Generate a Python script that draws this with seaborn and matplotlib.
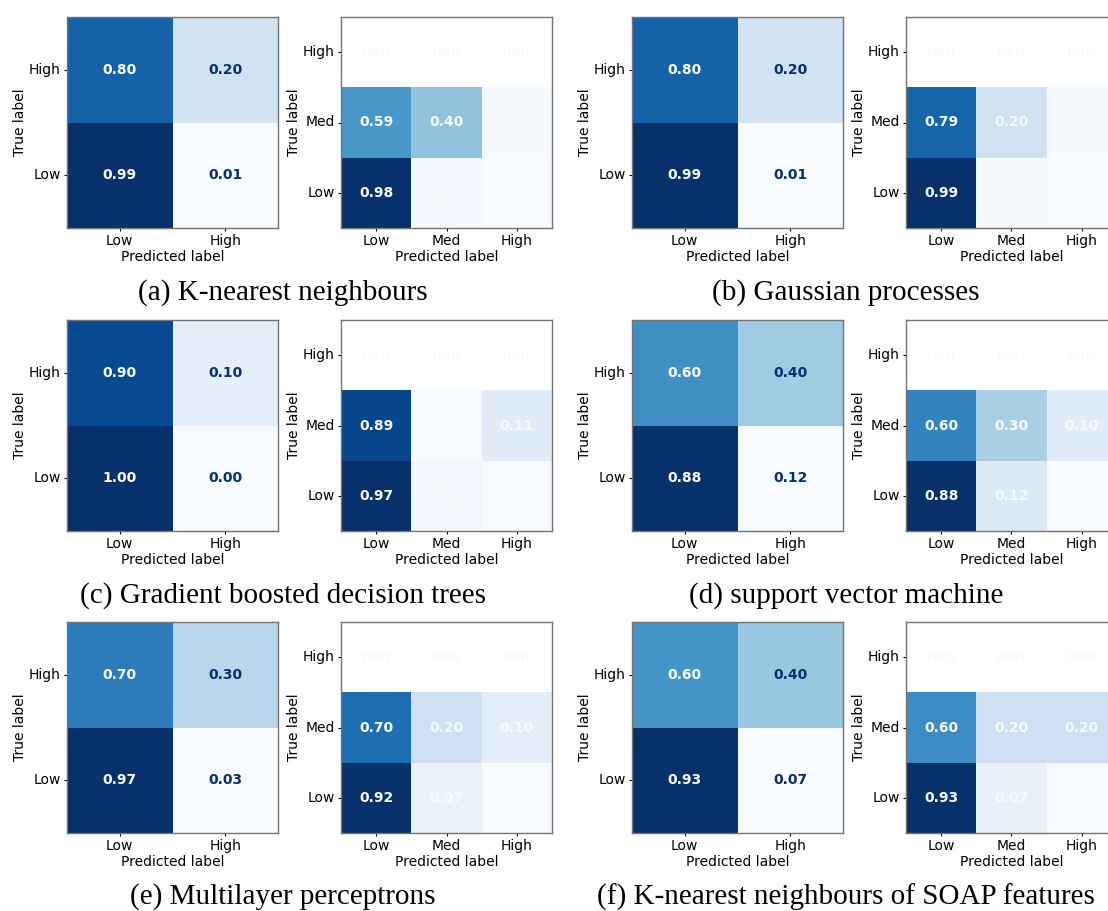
import numpy as np
import pandas as pd
import matplotlib
matplotlib.use("Agg")
import matplotlib.pyplot as plt
import seaborn as sns

nan = np.nan

labels2 = ["Low", "High"]
labels3 = ["Low", "Med", "High"]

captions = [
    "(a) K-nearest neighbours",
    "(b) Gaussian processes",
    "(c) Gradient boosted decision trees",
    "(d) support vector machine",
    "(e) Multilayer perceptrons",
    "(f) K-nearest neighbours of SOAP features",
]

# rows = true label (Low, High), cols = predicted label (Low, High)
knn_2 = [[0.99, 0.01], [0.80, 0.20]]
gp_2 = [[0.99, 0.01], [0.80, 0.20]]
gbdt_2 = [[1.00, 0.00], [0.90, 0.10]]
svm_2 = [[0.88, 0.12], [0.60, 0.40]]
mlp_2 = [[0.97, 0.03], [0.70, 0.30]]
soap_2 = [[0.93, 0.07], [0.60, 0.40]]

# rows = true label (Low, Med, High), cols = predicted label (Low, Med, High)
knn_3 = [[0.98, 0.02, 0.00], [0.59, 0.40, 0.01], [nan, nan, nan]]
gp_3 = [[0.99, 0.01, 0.00], [0.79, 0.20, 0.01], [nan, nan, nan]]
gbdt_3 = [[0.97, 0.03, 0.00], [0.89, 0.00, 0.11], [nan, nan, nan]]
svm_3 = [[0.88, 0.12, 0.00], [0.60, 0.30, 0.10], [nan, nan, nan]]
mlp_3 = [[0.92, 0.07, 0.01], [0.70, 0.20, 0.10], [nan, nan, nan]]
soap_3 = [[0.93, 0.07, 0.00], [0.60, 0.20, 0.20], [nan, nan, nan]]

pairs = [(knn_2, knn_3), (gp_2, gp_3), (gbdt_2, gbdt_3),
         (svm_2, svm_3), (mlp_2, mlp_3), (soap_2, soap_3)]

W, H = 1108, 911
fig = plt.figure(figsize=(W / 100, H / 100), dpi=100)
cmap = plt.get_cmap("Blues")
cmin, cmax = cmap(0.0), cmap(1.0)

row_tops = [17, 320, 622]
col_x2 = [67, 632]
col_x3 = [341, 906]
size = 211
cap_x = [283, 846]
cap_y = [293, 596, 897]
FS = 10


def add_ax(x, y):
    return fig.add_axes([x / W, 1 - (y + size) / H, size / W, size / H])


def draw_cm(ax, vals, labels):
    arr = np.array(vals, dtype=float)
    n = len(labels)
    df = pd.DataFrame(arr[::-1], index=labels[::-1], columns=labels)
    sns.heatmap(df, ax=ax, cmap="Blues", cbar=False, annot=True, fmt=".2f",
                annot_kws={"weight": "bold", "size": FS})
    thresh = (np.nanmax(arr) + np.nanmin(arr)) / 2 if not np.isnan(arr).any() else nan
    disp = arr[::-1]
    for t in ax.texts:
        x, y = t.get_position()
        v = disp[int(y), int(x)]
        t.set_color(cmax if v < thresh else cmin)
    for i in range(n):
        for j in range(n):
            if np.isnan(disp[i, j]):
                ax.text(j + 0.5, i + 0.5, "nan", ha="center", va="center",
                        color=cmin, fontsize=FS, weight="bold")
    ax.set_xlabel("Predicted label", fontsize=FS, labelpad=1)
    ax.set_ylabel("True label", fontsize=FS, labelpad=1)
    ax.tick_params(axis="y", labelrotation=0, labelsize=FS, length=2.5, pad=2)
    ax.tick_params(axis="x", labelrotation=0, labelsize=FS, length=2.5, pad=2)
    for sp in ax.spines.values():
        sp.set_visible(True)
        sp.set_color("0.45")
        sp.set_linewidth(1.0)


for k, (m2, m3) in enumerate(pairs):
    r, c = divmod(k, 2)
    ax2 = add_ax(col_x2[c], row_tops[r])
    draw_cm(ax2, m2, labels2)
    ax3 = add_ax(col_x3[c], row_tops[r])
    draw_cm(ax3, m3, labels3)
    fig.text(cap_x[c] / W, 1 - cap_y[r] / H, captions[k], ha="center",
             va="center", fontsize=21, family="Liberation Serif")

fig.savefig("out.png", dpi=100)
